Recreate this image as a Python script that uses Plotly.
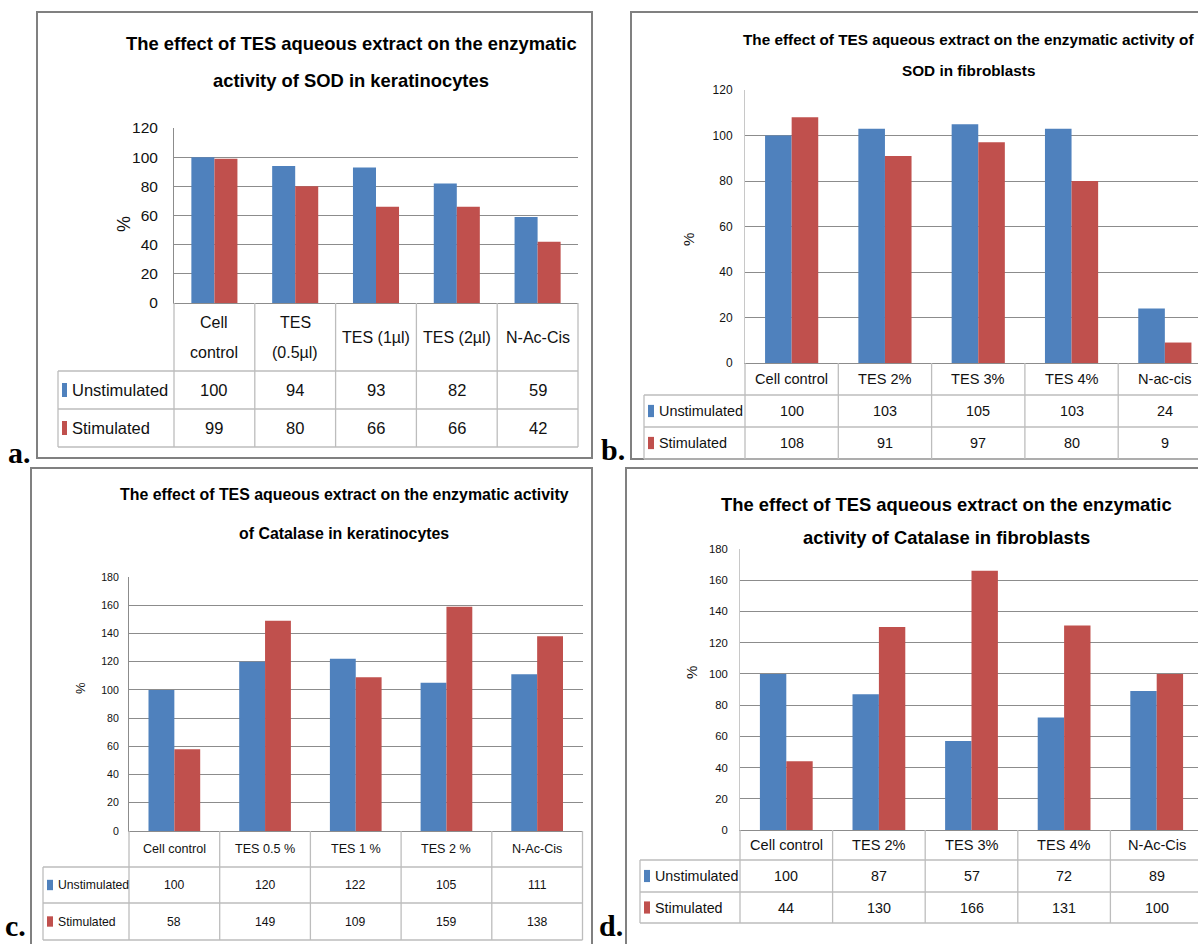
import plotly.graph_objects as go

W, H = 1198, 944

# ---------------- data ----------------
series_names = ["Unstimulated", "Stimulated"]
series_colors = ["#4F81BD", "#C0504D"]

categories_a = ["Cell<br>control", "TES<br>(0.5µl)", "TES (1µl)", "TES (2µl)", "N-Ac-Cis"]
unstim_a = [100, 94, 93, 82, 59]
stim_a = [99, 80, 66, 66, 42]
title_a = ["The effect of TES aqueous extract on the enzymatic",
           "activity of SOD in keratinocytes"]

categories_b = ["Cell control", "TES 2%", "TES 3%", "TES 4%", "N-ac-cis"]
unstim_b = [100, 103, 105, 103, 24]
stim_b = [108, 91, 97, 80, 9]
title_b = ["The effect of TES aqueous extract on the enzymatic activity of",
           "SOD in fibroblasts"]

categories_c = ["Cell control", "TES 0.5 %", "TES 1 %", "TES 2 %", "N-Ac-Cis"]
unstim_c = [100, 120, 122, 105, 111]
stim_c = [58, 149, 109, 159, 138]
title_c = ["The effect of TES aqueous extract on the enzymatic activity",
           "of Catalase in keratinocytes"]

categories_d = ["Cell control", "TES 2%", "TES 3%", "TES 4%", "N-Ac-Cis"]
unstim_d = [100, 87, 57, 72, 89]
stim_d = [44, 130, 166, 131, 100]
title_d = ["The effect of TES aqueous extract on the enzymatic",
           "activity of Catalase in fibroblasts"]

y_label = "%"
panel_letters = ["a.", "b.", "c.", "d."]

# ---------------- layout geometry (pixels) ----------------
SANS = "Liberation Sans, Arial, sans-serif"
SERIF = "Liberation Serif, Times New Roman, DejaVu Serif, serif"
GRID = "#8c8c8c"
GRID_LIGHT = "#c8c8c8"
TABLE = "#bdbdbd"
FRAME = "#808080"
TXT = "#111111"

panels = [
    dict(cats=categories_a, vals=[unstim_a, stim_a], title=title_a, letter=panel_letters[0],
         frame=(37, 12, 592, 458), left=174, colw=80.8, y0=303, ytop=128, ymax=120,
         cat_bottom=371, row1=409, row2=447, tleft=58,
         title_y=[44, 80], title_cx=351, title_size=18.4,
         tick_size=15.5, table_size=16.5, cat_size=16, cat_gap=30, standoff=12,
         pct=(124, 224, 18), letter_pos=(19, 452), key_w=5, letter_anchor="middle",
         axis_color=GRID),
    dict(cats=categories_b, vals=[unstim_b, stim_b], title=title_b, letter=panel_letters[1],
         frame=(631, 12, 1212, 459), left=745, colw=93.3, y0=363, ytop=90, ymax=120,
         cat_bottom=395, row1=427, row2=459, tleft=644,
         title_y=[39, 70], title_cx=968, title_size=15.3,
         tick_size=12, table_size=14.4, cat_size=14.6, cat_gap=24, standoff=9,
         pct=(688, 240, 15), letter_pos=(613, 449), key_w=6, letter_anchor="middle",
         axis_color=GRID_LIGHT),
    dict(cats=categories_c, vals=[unstim_c, stim_c], title=title_c, letter=panel_letters[2],
         frame=(31, 468, 592, 960), left=129, colw=90.7, y0=831, ytop=577, ymax=180,
         cat_bottom=867, row1=903, row2=940, tleft=43,
         title_y=[494, 533], title_cx=344, title_size=15.9,
         tick_size=10.6, table_size=12.2, cat_size=12.6, cat_gap=22, standoff=7,
         pct=(80, 688, 13), letter_pos=(15, 944), key_w=6, letter_anchor="bottom",
         axis_color=GRID),
    dict(cats=categories_d, vals=[unstim_d, stim_d], title=title_d, letter=panel_letters[3],
         frame=(626, 468, 1212, 960), left=740, colw=92.6, y0=830, ytop=549, ymax=180,
         cat_bottom=860, row1=892, row2=923, tleft=640,
         title_y=[504, 537], title_cx=946, title_size=18.4,
         tick_size=11.3, table_size=14.3, cat_size=14.6, cat_gap=24, standoff=9,
         pct=(691, 673, 15), letter_pos=(611, 944), key_w=6, letter_anchor="bottom",
         axis_color=GRID_LIGHT),
]


def px(x):
    return x / W


def py(y):
    return 1 - y / H


fig = go.Figure()
shapes = []
annotations = []

for i, p in enumerate(panels):
    n = i + 1
    xa = "x" if n == 1 else f"x{n}"
    ya = "y" if n == 1 else f"y{n}"
    xkey = "xaxis" if n == 1 else f"xaxis{n}"
    ykey = "yaxis" if n == 1 else f"yaxis{n}"

    ncat = len(p["cats"])
    right_full = p["left"] + ncat * p["colw"]
    right_vis = min(right_full, W)
    xr1 = -0.5 + (right_vis - p["left"]) / p["colw"]

    for s in range(2):
        fig.add_trace(go.Bar(
            x=p["cats"], y=p["vals"][s], name=series_names[s],
            marker=dict(color=series_colors[s], line=dict(width=0)),
            xaxis=xa, yaxis=ya, showlegend=False, hoverinfo="skip"))

    fig.layout[xkey] = dict(
        domain=[px(p["left"]), px(right_vis)], anchor=ya, type="category",
        range=[-0.5, xr1], showticklabels=False, ticks="", showgrid=False,
        showline=True, linecolor=GRID, linewidth=1, zeroline=False, fixedrange=True,
        automargin=False)
    fig.layout[ykey] = dict(
        domain=[py(p["y0"]), py(p["ytop"])], anchor=xa, range=[0, p["ymax"]],
        dtick=20, tick0=0, showgrid=True, gridcolor=GRID, gridwidth=1,
        showline=True, linecolor=p["axis_color"], linewidth=1, zeroline=False,
        ticks="", ticklabelstandoff=p["standoff"], automargin=False,
        tickfont=dict(family=SANS, size=p["tick_size"], color=TXT), fixedrange=True)

    # frame
    fx0, fy0, fx1, fy1 = p["frame"]
    shapes.append(dict(type="rect", xref="paper", yref="paper",
                       x0=px(fx0), x1=px(fx1), y0=py(fy1), y1=py(fy0),
                       line=dict(color=FRAME, width=2), fillcolor="rgba(0,0,0,0)", layer="below"))

    # data table lines
    for k in range(ncat + 1):
        xb = p["left"] + k * p["colw"]
        if xb > W + 2:
            continue
        shapes.append(dict(type="line", xref="paper", yref="paper",
                           x0=px(xb), x1=px(xb), y0=py(p["y0"]), y1=py(p["row2"]),
                           line=dict(color=TABLE, width=1.3)))
    shapes.append(dict(type="line", xref="paper", yref="paper",
                       x0=px(p["tleft"]), x1=px(p["tleft"]), y0=py(p["cat_bottom"]), y1=py(p["row2"]),
                       line=dict(color=TABLE, width=1.3)))
    for yy in (p["cat_bottom"], p["row1"], p["row2"]):
        shapes.append(dict(type="line", xref="paper", yref="paper",
                           x0=px(p["tleft"]), x1=px(right_full), y0=py(yy), y1=py(yy),
                           line=dict(color=TABLE, width=1.3)))

    # category labels
    for k, cat in enumerate(p["cats"]):
        cx = p["left"] + (k + 0.5) * p["colw"]
        lines = cat.split("<br>")
        cy = (p["y0"] + p["cat_bottom"]) / 2
        for li, line in enumerate(lines):
            ly = cy + (li - (len(lines) - 1) / 2) * p["cat_gap"]
            annotations.append(dict(xref="paper", yref="paper", x=px(cx), y=py(ly),
                                    text=line, showarrow=False, xanchor="center", yanchor="middle",
                                    font=dict(family=SANS, size=p["cat_size"], color=TXT)))

    # table rows: legend keys, names, values
    row_bounds = [(p["cat_bottom"], p["row1"]), (p["row1"], p["row2"])]
    for s in range(2):
        r0, r1 = row_bounds[s]
        ry = (r0 + r1) / 2
        kx0 = p["tleft"] + 4
        kh = p["table_size"] * 0.85
        shapes.append(dict(type="rect", xref="paper", yref="paper",
                           x0=px(kx0), x1=px(kx0 + p["key_w"]),
                           y0=py(ry + kh / 2), y1=py(ry - kh / 2),
                           line=dict(width=0), fillcolor=series_colors[s]))
        annotations.append(dict(xref="paper", yref="paper", x=px(kx0 + p["key_w"] + 3), y=py(ry),
                                text=series_names[s], showarrow=False, xanchor="left", yanchor="middle",
                                font=dict(family=SANS, size=p["table_size"], color=TXT)))
        for k, v in enumerate(p["vals"][s]):
            cx = p["left"] + (k + 0.5) * p["colw"]
            annotations.append(dict(xref="paper", yref="paper", x=px(cx), y=py(ry),
                                    text=str(v), showarrow=False, xanchor="center", yanchor="middle",
                                    font=dict(family=SANS, size=p["table_size"], color=TXT)))

    # title
    for li, line in enumerate(p["title"]):
        annotations.append(dict(xref="paper", yref="paper", x=px(p["title_cx"]), y=py(p["title_y"][li]),
                                text=f"<b>{line}</b>", showarrow=False, xanchor="center", yanchor="middle",
                                font=dict(family=SANS, size=p["title_size"], color="#000")))

    # % label
    pxl, pyl, ps = p["pct"]
    annotations.append(dict(xref="paper", yref="paper", x=px(pxl), y=py(pyl), text=y_label,
                            textangle=-90, showarrow=False, xanchor="center", yanchor="middle",
                            font=dict(family=SANS, size=ps, color=TXT)))

    # panel letter
    lx, ly = p["letter_pos"]
    annotations.append(dict(xref="paper", yref="paper", x=px(lx), y=py(ly), text=f"<b>{p['letter']}</b>",
                            showarrow=False, xanchor="center", yanchor=p["letter_anchor"],
                            font=dict(family=SERIF, size=30, color="#000")))

fig.update_layout(
    width=W, height=H, autosize=False,
    margin=dict(l=0, r=0, t=0, b=0, pad=0, autoexpand=False),
    paper_bgcolor="white", plot_bgcolor="white",
    barmode="group", bargap=0.43, bargroupgap=0,
    shapes=shapes, annotations=annotations,
    showlegend=False,
)

pin_script = (
    "document.documentElement.style.margin='0';document.documentElement.style.padding='0';"
    "document.body.style.margin='0';document.body.style.padding='0';document.body.style.overflow='hidden';"
    "var gd=document.getElementById('{plot_id}');gd.style.position='fixed';gd.style.left='0px';gd.style.top='0px';"
)

fig.write_html("out.html", config={"displayModeBar": False, "staticPlot": True, "responsive": False},
               post_script=pin_script)
